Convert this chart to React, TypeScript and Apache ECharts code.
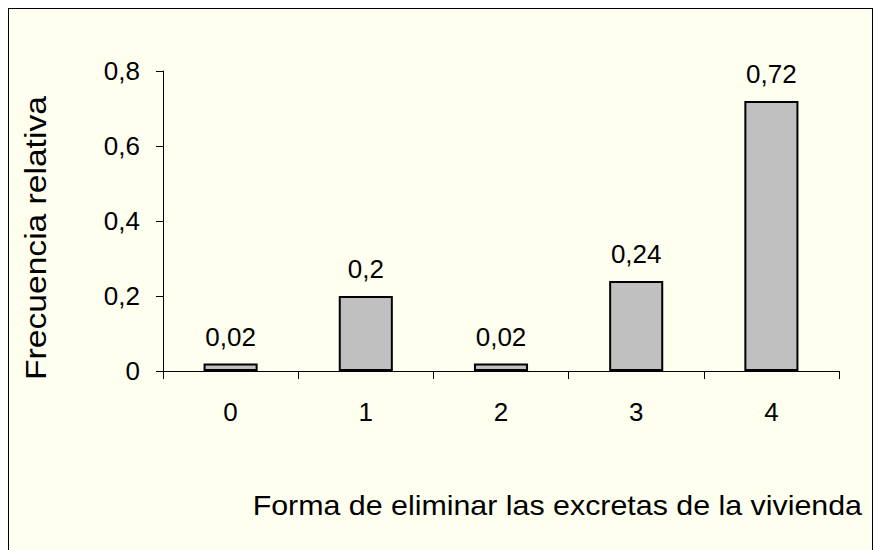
import React, { useEffect, useRef } from "react";
import * as echarts from "echarts";

const categories = ["0", "1", "2", "3", "4"];
const values = [0.02, 0.2, 0.02, 0.24, 0.72];
const yTicks = { min: 0, max: 0.8, interval: 0.2 };
const xTitle = "Forma de eliminar las excretas de la vivienda";
const yTitle = "Frecuencia relativa";

const fmt = (v: number) => String(Math.round(v * 100) / 100).replace(".", ",");
const FONT = "'Liberation Sans', Arial, sans-serif";

export default function App() {
  const ref = useRef<HTMLDivElement>(null);
  useEffect(() => {
    if (!ref.current) return;
    const chart = echarts.init(ref.current, undefined, { renderer: "svg" });
    chart.setOption({
      animation: false,
      backgroundColor: "#FFFFF0",
      textStyle: { fontFamily: FONT },
      grid: { left: 154, right: 33, top: 62, bottom: 179, containLabel: false },
      xAxis: {
        type: "category",
        data: categories,
        boundaryGap: true,
        axisLine: { show: true, lineStyle: { color: "#000", width: 1 } },
        axisTick: { show: true, length: 8, alignWithLabel: false, lineStyle: { color: "#000" } },
        axisLabel: { color: "#000", fontSize: 26, margin: 28, fontFamily: FONT },
        splitLine: { show: false },
      },
      yAxis: {
        type: "value",
        min: yTicks.min,
        max: yTicks.max,
        interval: yTicks.interval,
        axisLine: { show: true, lineStyle: { color: "#000", width: 1 } },
        axisTick: { show: true, length: 7, inside: false, lineStyle: { color: "#000" } },
        axisLabel: { color: "#000", fontSize: 26, margin: 23, fontFamily: FONT, formatter: (v: number) => fmt(v) },
        splitLine: { show: false },
      },
      series: [
        {
          type: "bar",
          data: values,
          barWidth: "40%",
          itemStyle: { color: "#C0C0C0", borderColor: "#000", borderWidth: 2 },
          label: {
            show: true,
            position: "top",
            distance: 14,
            color: "#000",
            fontSize: 26,
            fontFamily: FONT,
            formatter: (p: any) => fmt(p.value),
          },
        },
      ],
      graphic: [
        {
          type: "text",
          x: 853,
          y: 496,
          scaleX: 1.085,
          style: {
            text: xTitle,
            fontSize: 28,
            fontFamily: FONT,
            fill: "#000",
            align: "right",
            verticalAlign: "middle",
          },
        },
        {
          type: "text",
          x: 27,
          y: 229,
          rotation: Math.PI / 2,
          scaleX: 1.12,
          style: {
            text: yTitle,
            fontSize: 30,
            fontFamily: FONT,
            fill: "#000",
            align: "center",
            verticalAlign: "middle",
          },
        },
      ],
    });
    return () => chart.dispose();
  }, []);

  return (
    <div
      style={{
        position: "fixed",
        left: 8,
        top: 8,
        width: 865,
        height: 542,
        boxSizing: "border-box",
        borderTop: "1px solid #000",
        borderLeft: "1px solid #000",
        borderRight: "1px solid #000",
        background: "#FFFFF0",
        overflow: "hidden",
      }}
    >
      <div ref={ref} style={{ width: 863, height: 541 }} />
    </div>
  );
}
